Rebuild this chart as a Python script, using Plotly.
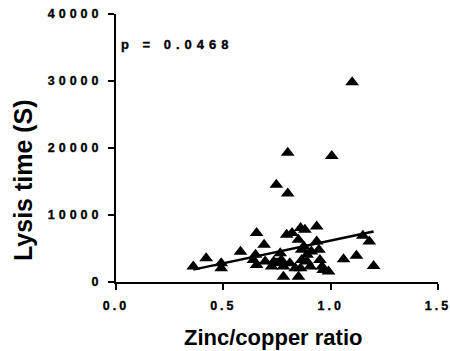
import plotly.graph_objects as go

ratio = [0.36, 0.42, 0.49, 0.49, 0.58,
         0.655, 0.69, 0.65, 0.64, 0.655, 0.695, 0.735, 0.725, 0.765, 0.77,
         0.78, 0.78, 0.75, 0.747, 0.80, 0.80, 1.005, 1.10, 0.795, 0.82,
         0.86, 0.88, 0.935, 0.85, 0.935, 0.865, 0.89, 0.865, 0.835, 0.85,
         0.905, 0.95, 0.96, 0.99, 0.81, 0.91, 0.945, 0.965, 0.875, 1.06,
         1.12, 1.20, 1.15, 1.18, 0.89, 0.86]
lysis = [2300, 3550, 2800, 2050, 4500,
         7300, 5550, 4050, 3300, 2550, 3050, 3050, 2300, 4300, 3300,
         2300, 800, 2800, 14500, 13200, 19300, 18800, 29800, 7050, 7300,
         8050, 7800, 8300, 6300, 6050, 4800, 4050, 3300, 2050, 800,
         2300, 3300, 2300, 1550, 2800, 4550, 4800, 1800, 5300, 3400,
         3900, 2400, 6900, 6050, 3050, 2050]

# regression line endpoints
fit_x = [0.36, 1.20]
fit_y = [1850, 7550]

x_ticks = [0.0, 0.5, 1.0, 1.5]
y_ticks = [0, 10000, 20000, 30000, 40000]
p_label = "p = 0.0468"
x_title = "Zinc/copper ratio"
y_title = "Lysis time (S)"

FONT = "Liberation Sans, Arial, sans-serif"

fig = go.Figure()
fig.add_trace(go.Scatter(x=fit_x, y=fit_y, mode="lines",
                         line=dict(color="black", width=2.5),
                         showlegend=False, cliponaxis=False))
fig.add_trace(go.Scatter(x=ratio, y=lysis, mode="markers",
                         marker=dict(symbol="triangle-up", size=12, color="black"),
                         showlegend=False, cliponaxis=False))

fig.update_layout(
    width=450, height=351,
    margin=dict(l=116, r=12, t=14, b=69),
    plot_bgcolor="white", paper_bgcolor="white",
    font=dict(family=FONT, color="black"),
    xaxis=dict(range=[0, 1.5], tickvals=x_ticks, tickformat=".1f",
               showline=True, linecolor="black", linewidth=2,
               ticks="outside", ticklen=6, tickwidth=2, tickcolor="black",
               showgrid=False, zeroline=False, automargin=False,
               ticklabelstandoff=5,
               tickfont=dict(size=12.5, family=FONT, weight="bold")),
    yaxis=dict(range=[0, 40000], tickvals=y_ticks, tickformat="d",
               showline=True, linecolor="black", linewidth=2,
               ticks="outside", ticklen=6, tickwidth=2, tickcolor="black",
               showgrid=False, zeroline=False, automargin=False,
               ticklabelstandoff=3,
               tickfont=dict(size=12.5, family=FONT, weight="bold")),
)
fig.add_annotation(x=0.286, y=35500, xref="x", yref="y", text=p_label, showarrow=False,
                   xanchor="center", yanchor="middle",
                   font=dict(size=13, family=FONT, weight="bold"))
fig.add_annotation(x=(272.5 - 116) / 322, y=(282 - 337) / 268, xref="paper", yref="paper",
                   text=x_title, showarrow=False, xanchor="center", yanchor="middle",
                   font=dict(size=22, family=FONT, weight="bold"))
fig.add_annotation(x=(23 - 116) / 322, y=(282 - 180) / 268, xref="paper", yref="paper",
                   text=y_title, showarrow=False, xanchor="center", yanchor="middle",
                   textangle=-90,
                   font=dict(size=25, family=FONT, weight="bold"))

css = ("var s=document.createElement('style');"
       "s.textContent='.xtick text{letter-spacing:3px;stroke:black;stroke-width:0.35px}"
       ".ytick text{letter-spacing:4px;stroke:black;stroke-width:0.35px}"
       ".annotation[data-index=\"0\"] text{letter-spacing:5px;stroke:black;stroke-width:0.35px}';"
       "document.head.appendChild(s);")
fig.write_html("out.html", post_script=css)
